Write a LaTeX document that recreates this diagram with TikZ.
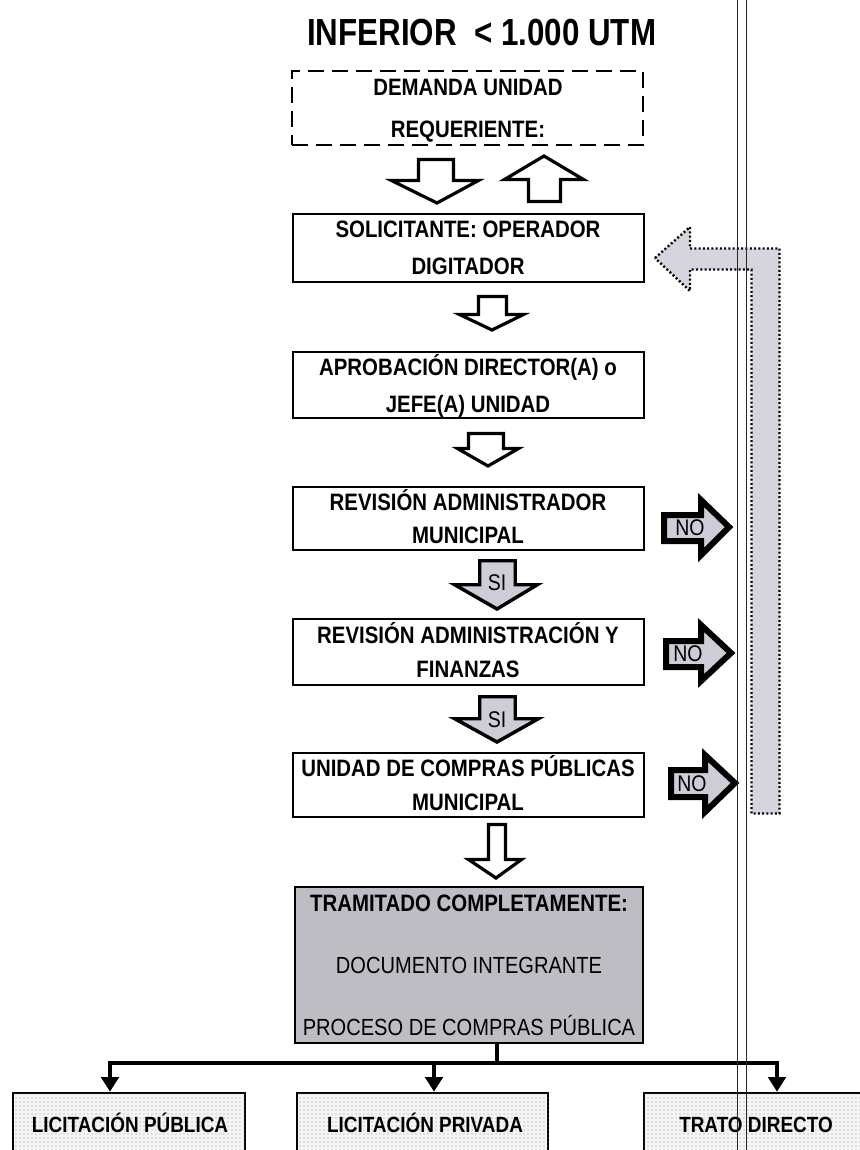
\documentclass[tikz,border=0pt]{standalone}
\usepackage{fontspec}
\setmainfont{Liberation Sans}
\newfontfamily\cnd[FakeStretch=0.86]{Liberation Sans}
\newfontfamily\ttl[FakeStretch=0.83]{Liberation Sans}
\usetikzlibrary{arrows.meta,patterns}
\definecolor{arrfill}{RGB}{206,204,214}
\definecolor{fbfill}{RGB}{214,213,222}
\definecolor{trafill}{RGB}{190,189,196}
\begin{document}
\begin{tikzpicture}[x=0.75pt,y=-0.75pt,
  box/.style={draw=black,line width=1.9pt,minimum width=263.25pt,inner sep=0pt},
  dbox/.style={draw=black,line width=2.2pt,dash pattern=on 12pt off 6pt,minimum width=263.25pt,minimum height=55.5pt,inner sep=0pt},
  lowbox/.style={draw=black,line width=1.9pt,fill=gray!8,postaction={pattern=dots,pattern color=gray!85},minimum height=54pt,inner sep=0pt},
  btxt/.style={anchor=base,inner sep=0pt,font=\cnd\bfseries\fontsize{17.8}{20}\selectfont},
  rtxt/.style={anchor=base,inner sep=0pt,font=\cnd\fontsize{17.5}{20}\selectfont},
  lowtxt/.style={anchor=base,inner sep=0pt,font=\cnd\bfseries\fontsize{16.5}{18}\selectfont},
  warr/.style={draw=black,line width=2.4pt,fill=white,line join=miter},
  siarr/.style={draw=black,line width=2.6pt,fill=arrfill,line join=miter},
  noarr/.style={draw=black,line width=4.5pt,fill=arrfill,line join=miter},
  fbarr/.style={draw=black,line width=1.8pt,dash pattern=on 1.5pt off 1.7pt,fill=fbfill},
  notxt/.style={inner sep=0pt,font=\cnd\fontsize{17}{20}\selectfont},
  sitxt/.style={inner sep=0pt,font=\cnd\fontsize{17}{20}\selectfont},
  tree/.style={draw=black,line width=3pt},
  treearr/.style={draw=black,line width=3pt,-{Triangle[width=13pt,length=11pt]}},
  scanline/.style={draw=black!85,line width=0.7pt}
]
\clip (0,0) rectangle (860,1150);
\fill[white] (0,0) rectangle (860,1150);

% title
\node[anchor=base west,inner sep=0pt,font=\ttl\bfseries\fontsize{28.3}{30}\selectfont] (title) at (307,45) {INFERIOR\ \ < 1.000 UTM};

% demand box
\node[dbox] (dem) at (467.5,108) {};
\node[btxt] (dem1) at (468,95) {DEMANDA UNIDAD};
\node[btxt] (dem2) at (468,137) {REQUERIENTE:};

% white arrows between demand and solicitante
\path[warr] (418.5,159.5) -- (453.5,159.5) -- (453.5,180.5) -- (478.5,180.5) -- (437,203) -- (391.5,180.5) -- (418.5,180.5) -- cycle;
\path[warr] (544,156) -- (583.5,179.5) -- (560.5,179.5) -- (560.5,201.5) -- (528.5,201.5) -- (528.5,179.5) -- (504.5,179.5) -- cycle;

% solicitante
\node[box,minimum height=51pt] (sol) at (468.5,248) {};
\node[btxt] (sol1) at (468,237) {SOLICITANTE: OPERADOR};
\node[btxt] (sol2) at (468,274) {DIGITADOR};

\path[warr] (478.5,296.5) -- (506.5,296.5) -- (506.5,314.5) -- (523.5,314.5) -- (492,330) -- (459.5,314.5) -- (478.5,314.5) -- cycle;

% aprobacion
\node[box,minimum height=49.5pt] (apr) at (468.5,385) {};
\node[btxt] (apr1) at (468,375) {APROBACIÓN DIRECTOR(A) o};
\node[btxt] (apr2) at (468,412) {JEFE(A) UNIDAD};

\path[warr] (468.5,433.5) -- (503.5,433.5) -- (503.5,448.5) -- (518.5,448.5) -- (488,466) -- (457.5,448.5) -- (468.5,448.5) -- cycle;

% revision administrador
\node[box,minimum height=47.25pt] (rad) at (468.5,518.5) {};
\node[btxt] (rad1) at (468,510) {REVISIÓN ADMINISTRADOR};
\node[btxt] (rad2) at (468,543) {MUNICIPAL};

\path[siarr] (479.75,560.75) -- (515.25,560.75) -- (515.25,584.75) -- (537.25,584.75) -- (497,609) -- (454.75,584.75) -- (479.75,584.75) -- cycle;
\node[sitxt] (si1) at (497,583) {SI};

% revision administracion y finanzas
\node[box,minimum height=49.5pt] (raf) at (468.5,652) {};
\node[btxt] (raf1) at (468,643) {REVISIÓN ADMINISTRACIÓN Y};
\node[btxt] (raf2) at (468,677) {FINANZAS};

\path[siarr] (479.75,696.75) -- (515.25,696.75) -- (515.25,718.75) -- (538.25,718.75) -- (497,742) -- (454.75,718.75) -- (479.75,718.75) -- cycle;
\node[sitxt] (si2) at (497,720) {SI};

% unidad de compras
\node[box,minimum height=48pt] (ucp) at (468.5,785) {};
\node[btxt] (ucp1) at (468,776) {UNIDAD DE COMPRAS PÚBLICAS};
\node[btxt] (ucp2) at (468,810) {MUNICIPAL};

\path[warr] (488.5,824.5) -- (505.5,824.5) -- (505.5,859.5) -- (521.5,859.5) -- (496,878) -- (468.5,859.5) -- (488.5,859.5) -- cycle;

% tramitado
\node[box,fill=trafill,minimum width=261pt,minimum height=117pt] (tra) at (469,965) {};
\node[btxt] (tra1) at (469,911) {TRAMITADO COMPLETAMENTE:};
\node[rtxt] (tra2) at (469,973) {DOCUMENTO INTEGRANTE};
\node[rtxt] (tra3) at (469,1035) {PROCESO DE COMPRAS PÚBLICA};

% NO arrows
\path[noarr] (664,515) -- (701,515) -- (701,500) -- (729,527) -- (701,555) -- (701,541) -- (664,541) -- cycle;
\node[notxt] (no1) at (690,528) {NO};
\path[noarr] (666,641) -- (701,641) -- (701,625) -- (731,653) -- (701,681) -- (701,667) -- (666,667) -- cycle;
\node[notxt] (no2) at (688,654) {NO};
\path[noarr] (671,770) -- (705,770) -- (705,755) -- (735,783) -- (705,812) -- (705,797) -- (671,797) -- cycle;
\node[notxt] (no3) at (692,784) {NO};

% feedback arrow
\path[fbarr] (655,258) -- (690,227) -- (690,248.5) -- (779.5,248.5) -- (779.5,813.5) -- (751.5,813.5) -- (751.5,269.5) -- (690,269.5) -- (690,291) -- cycle;

% bottom boxes
\node[lowbox,minimum width=174pt] (lp) at (129,1129) {};
\node[lowbox,minimum width=188.25pt] (lv) at (422.5,1129) {};
\node[lowbox,minimum width=169.5pt] (td) at (757,1129) {};
\node[lowtxt] (lpt) at (130,1132) {LICITACIÓN PÚBLICA};
\node[lowtxt] (lvt) at (425,1132) {LICITACIÓN PRIVADA};
\node[lowtxt] (tdt) at (756,1132) {TRATO DIRECTO};

% tree connectors
\coordinate (jn) at (497,1063);
\coordinate (aL) at (110,1063);
\coordinate (aM) at (434,1063);
\coordinate (aR) at (777,1063);
\path[tree] (jn |- tra.south) -- (jn);
\path[tree,line cap=rect] (aL) -- (aR);
\path[treearr] (aL) -- (aL |- lp.north);
\path[treearr] (aM) -- (aM |- lv.north);
\path[treearr] (aR) -- (aR |- td.north);

% scan lines
\path[scanline] (737,-5) -- (737,1160);
\path[scanline] (746,-5) -- (746,1160);
\end{tikzpicture}
\end{document}
